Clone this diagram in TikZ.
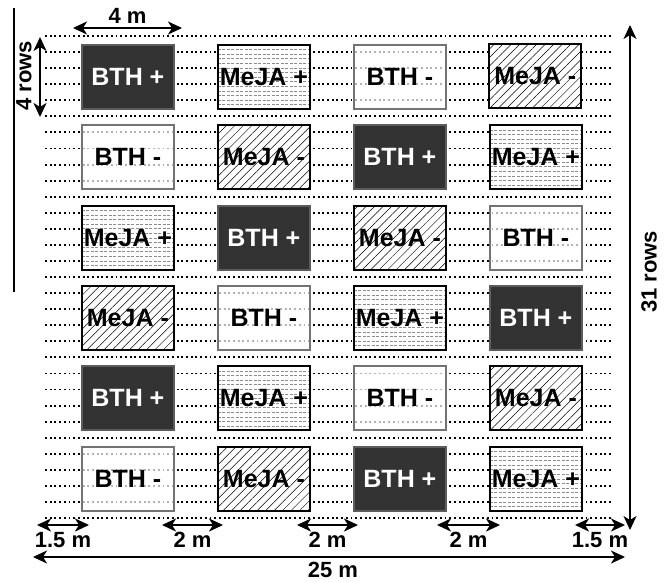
\documentclass[tikz,border=0pt]{standalone}
\usepackage{fontspec}
\setmainfont{Liberation Sans}
\usetikzlibrary{arrows.meta,patterns.meta}
\definecolor{dkplot}{RGB}{51,51,51}
\definecolor{ltbdr}{RGB}{115,115,115}
\definecolor{dashclr}{RGB}{140,140,140}
\tikzset{
  rowline/.style={line width=1.9pt,dash pattern=on 1.9pt off 2.8pt,color=black},
  plotbox/.style={rectangle,anchor=north west,minimum width=92pt,minimum height=64pt,
    inner sep=0pt,line width=1.8pt,font=\fontsize{25}{25}\selectfont\bfseries},
  btp/.style={plotbox,fill=dkplot,draw=dkplot!80,text=white},
  btm/.style={plotbox,draw=ltbdr,fill=white,fill opacity=0.7,text opacity=1,text=black},
  mjm/.style={plotbox,draw=black,preaction={fill=white},
    pattern={Lines[angle=45,distance=6pt,line width=0.5pt]},text=black},
  mjp/.style={plotbox,draw=black,fill=white,text=black,
    path picture={\foreach \k in {1,...,13}
      \draw[dashclr,dash pattern=on 3pt off 1.5pt,line width=0.6pt]
        ([yshift=-\k*4.6pt]path picture bounding box.north west) --
        ([yshift=-\k*4.6pt]path picture bounding box.north east);}},
  dimarr/.style={{Stealth[length=14pt,width=13pt,inset=4pt]}-{Stealth[length=14pt,width=13pt,inset=4pt]},
    line width=2pt},
  dimlbl/.style={font=\fontsize{22}{22}\selectfont\bfseries,inner sep=0pt},
}
\begin{document}
\begin{tikzpicture}[x=1pt,y=-1pt]
  \useasboundingbox (0,0) rectangle (668,581);

  %% field rows
  \foreach \k in {0,...,30}{
    \draw[rowline] (45,{36+16.07*\k}) -- (612,{36+16.07*\k});
  }

  %% plots
  \foreach \r/\row in {1/{btp/BTH +,mjp/MeJA +,btm/BTH -,mjm/MeJA -},
                       2/{btm/BTH -,mjm/MeJA -,btp/BTH +,mjp/MeJA +},
                       3/{mjp/MeJA +,btp/BTH +,mjm/MeJA -,btm/BTH -},
                       4/{mjm/MeJA -,btm/BTH -,mjp/MeJA +,btp/BTH +},
                       5/{btp/BTH +,mjp/MeJA +,btm/BTH -,mjm/MeJA -},
                       6/{btm/BTH -,mjm/MeJA -,btp/BTH +,mjp/MeJA +}}{
    \foreach \s/\t [count=\i] in \row{
      \node[\s] (p\r\i) at ({81+136*(\i-1)},{44+80.35*(\r-1)}) {\t};
    }
  }

  %% dimensions
  \coordinate (wa) at (73,28);   \coordinate (wb) at (182,28);
  \draw[dimarr] (wa) -- node[dimlbl,above=4pt] (wlbl) {4 m} (wb);
  \coordinate (ha) at (40,37);   \coordinate (hb) at (40,117);
  \draw[dimarr] (ha) -- (hb);
  \node[dimlbl,rotate=90] (hlbl) at (24,76) {4 rows};
  \coordinate (ra) at (630,25);  \coordinate (rb) at (630,530);
  \draw[dimarr,line width=1.6pt] (ra) -- (rb);
  \node[dimlbl,rotate=90] (rlbl) at (649,272) {31 rows};
  \foreach \xa/\xb/\t/\nm in {37/89/1.5 m/ga,162/223/2 m/gb,297/358/2 m/gc,437/500/2 m/gd,575/625/1.5 m/ge}{
    \coordinate (\nm1) at (\xa,525); \coordinate (\nm2) at (\xb,525);
    \draw[dimarr] (\nm1) -- node[dimlbl,below=6pt] (\nm lbl) {\t} (\nm2);
  }
  \coordinate (ta) at (33,557);  \coordinate (tb) at (625,557);
  \draw[dimarr] (ta) -- (tb);
  \node[dimlbl] (tlbl) at (333,570) {25 m};

  %% left edge line
  \draw[line width=1.2pt] (14,8) -- (14,292);
\end{tikzpicture}
\end{document}
